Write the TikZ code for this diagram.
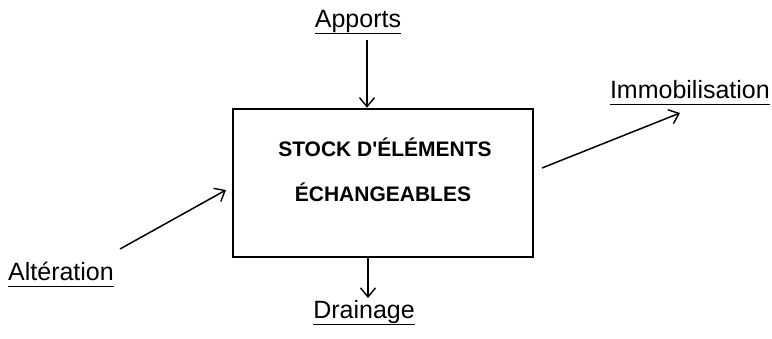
\documentclass[tikz,border=0pt]{standalone}
\usepackage{fontspec}
\setmainfont{Liberation Sans}
\usetikzlibrary{arrows.meta}
\newcommand\souligne[1]{\underline{#1\vphantom{p}}}
\begin{document}
\begin{tikzpicture}[x=1pt,y=-1pt,
    flux/.style={line width=1.5pt, -{Straight Barb[length=9pt,width=15pt,line width=1.4pt]}},
    etiquette/.style={font=\fontsize{25}{29}\selectfont, inner sep=0pt},
    titre/.style={font=\bfseries\fontsize{21}{25}\selectfont, inner sep=0pt},
    stock/.style={draw, line width=2.6pt, minimum width=300pt, minimum height=148pt, inner sep=0pt}]
    \useasboundingbox (0,0) rectangle (772,338);

    % Stock central
    \node[stock] (stock) at (383,183) {};
    \node[titre] (stock-l1) at (385,147) {STOCK D\textquotesingle ÉLÉMENTS};
    \node[titre] (stock-l2) at (383,192) {ÉCHANGEABLES};

    % Etiquettes des flux
    \node[etiquette, anchor=base] (apports) at (358,27) {\souligne{Apports}};
    \node[etiquette, anchor=base] (drainage) at (364,318) {\souligne{Drainage}};
    \node[etiquette, anchor=base west] (alteration) at (8,280) {\souligne{Altération}};
    \node[etiquette, anchor=base east] (immo) at (770,98) {\souligne{Immobilisation}};

    % Extremites libres des fleches
    \coordinate (apports-bas) at (367,40);
    \coordinate (drainage-haut) at (368,298);
    \coordinate (alteration-debut) at (120,249);
    \coordinate (alteration-fin) at (226,190);
    \coordinate (immo-debut) at (542,168);
    \coordinate (immo-fin) at (680,113);

    % Flux
    \draw[flux] (apports-bas) -- (apports-bas |- stock.north);
    \draw[flux] (drainage-haut |- stock.south) -- (drainage-haut);
    \draw[flux] (alteration-debut) -- (alteration-fin);
    \draw[flux] (immo-debut) -- (immo-fin);
\end{tikzpicture}
\end{document}
